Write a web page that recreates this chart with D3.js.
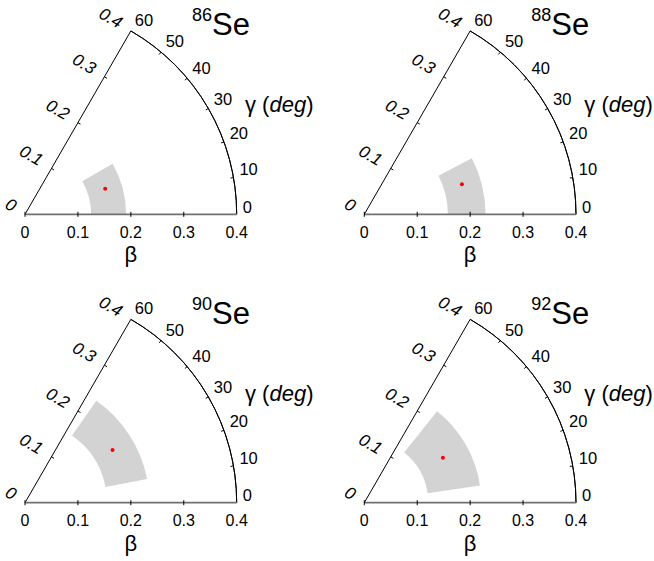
<!DOCTYPE html>
<html>
<head>
<meta charset="utf-8">
<script src="https://cdn.jsdelivr.net/npm/d3@7"></script>
<style>
  html, body { margin: 0; padding: 0; background: #fff; }
  svg { display: block; font-family: "Liberation Sans", Arial, Helvetica, sans-serif; }
</style>
</head>
<body>
<svg id="chart" width="654" height="561"></svg>
<script>
// Mass numbers of the selenium isotopes, one wedge panel each
const massNumbers = ["86", "88", "90", "92"];
// Extent of the shaded (beta, gamma) region per isotope
const betaLow   = [0.125, 0.158, 0.155, 0.121];
const betaHigh  = [0.191, 0.229, 0.235, 0.221];
const gammaLow  = [0, 0, 11, 8.5];
const gammaHigh = [30, 27.5, 55, 51.5];
// Mean deformation (red point)
const betaMean  = [0.159, 0.193, 0.193, 0.171];
const gammaMean = [17.6, 17.1, 31, 29.7];
// Axis ticks
const betaTicks  = [0, 0.1, 0.2, 0.3, 0.4];
const gammaTicks = [0, 10, 20, 30, 40, 50, 60];

const svg = d3.select("#chart");
const R = 211.7;
const rScale = d3.scaleLinear().domain([0, 0.4]).range([0, R]);
const gScale = d3.scaleLinear().domain([0, 60]).range([0, Math.PI / 3]);
const fmt = d3.format("");

// panel origins (beta = 0) on the page
const origins = [[25, 214.3], [364.3, 214.3], [25, 502.7], [364.3, 502.7]];

function polar(b, gDeg) {
  const a = gScale(gDeg), r = rScale(b);
  return [r * Math.cos(a), -r * Math.sin(a)];
}

massNumbers.forEach((A, i) => {
  const g = svg.append("g").attr("transform", `translate(${origins[i][0]},${origins[i][1]})`);

  // shaded region
  const arc = d3.arc()
    .innerRadius(rScale(betaLow[i]))
    .outerRadius(rScale(betaHigh[i]))
    .startAngle(Math.PI / 2 - gScale(gammaHigh[i]))
    .endAngle(Math.PI / 2 - gScale(gammaLow[i]));
  g.append("path").attr("d", arc()).attr("fill", "#d3d3d3");

  // outer arc (beta = 0.4)
  const outer = d3.arc().innerRadius(R).outerRadius(R)
    .startAngle(Math.PI / 2 - gScale(60)).endAngle(Math.PI / 2);
  g.append("path").attr("d", outer()).attr("fill", "none").attr("stroke", "#000").attr("stroke-width", 1);

  // gamma = 60 edge
  const apex = polar(0.4, 60);
  g.append("line").attr("x1", 0).attr("y1", 0).attr("x2", apex[0]).attr("y2", apex[1])
    .attr("stroke", "#000").attr("stroke-width", 1);

  // beta axis (gamma = 0)
  g.append("line").attr("x1", 0).attr("y1", 0).attr("x2", rScale(0.4)).attr("y2", 0)
    .attr("stroke", "#707070").attr("stroke-width", 1.8);

  // beta ticks along gamma = 0
  betaTicks.slice(0, -1).forEach(b => {
    g.append("line").attr("x1", rScale(b)).attr("x2", rScale(b)).attr("y1", -2.5).attr("y2", 2.5)
      .attr("stroke", "#000").attr("stroke-width", 1);
  });
  g.selectAll("text.bx").data(betaTicks).join("text")
    .attr("class", "bx")
    .attr("x", d => rScale(d)).attr("y", 23.5)
    .attr("text-anchor", "middle").attr("font-size", 16)
    .text(d => fmt(d));

  // beta ticks along gamma = 60 (rotated italic labels)
  betaTicks.forEach(b => {
    const p = polar(b, 60);
    if (b > 0 && b < 0.4) {
      g.append("line").attr("x1", p[0]).attr("y1", p[1])
        .attr("x2", p[0] + 3 * Math.sin(Math.PI / 3)).attr("y2", p[1] + 3 * Math.cos(Math.PI / 3))
        .attr("stroke", "#000").attr("stroke-width", 1);
    }
    const lx = p[0] - 10.5, ly = p[1] - 6;
    g.append("text")
      .attr("transform", `translate(${lx},${ly}) rotate(30)`)
      .attr("text-anchor", "end").attr("dominant-baseline", "middle")
      .attr("font-size", 17).attr("font-style", "italic")
      .text(fmt(b));
  });

  // gamma ticks and labels on the outer arc
  gammaTicks.forEach(d => {
    const a = gScale(d);
    if (d > 0 && d < 60) {
      g.append("line")
        .attr("x1", R * Math.cos(a)).attr("y1", -R * Math.sin(a))
        .attr("x2", (R - 3) * Math.cos(a)).attr("y2", -(R - 3) * Math.sin(a))
        .attr("stroke", "#000").attr("stroke-width", 1);
    }
    g.append("text")
      .attr("x", (R + 4) * Math.cos(a) + 2).attr("y", -(R + 4) * Math.sin(a) - 6)
      .attr("dominant-baseline", "middle").attr("font-size", 16.5)
      .text(d);
  });

  // axis titles
  g.append("text").attr("x", rScale(0.2)).attr("y", 48)
    .attr("text-anchor", "middle").attr("font-size", 22).text("β");
  const gt = g.append("text").attr("x", 220).attr("y", -102).attr("font-size", 22);
  gt.append("tspan").text("γ (");
  gt.append("tspan").attr("font-style", "italic").text("deg");
  gt.append("tspan").text(")");

  // isotope label
  const t = g.append("text").attr("x", 167).attr("y", -179);
  t.append("tspan").attr("font-size", 18).attr("dy", -14).text(A);
  t.append("tspan").attr("font-size", 31).attr("dy", 14).text("Se");

  // mean point
  const m = polar(betaMean[i], gammaMean[i]);
  g.append("circle").attr("cx", m[0]).attr("cy", m[1]).attr("r", 2).attr("fill", "#ff0000");
});
</script>
</body>
</html>
